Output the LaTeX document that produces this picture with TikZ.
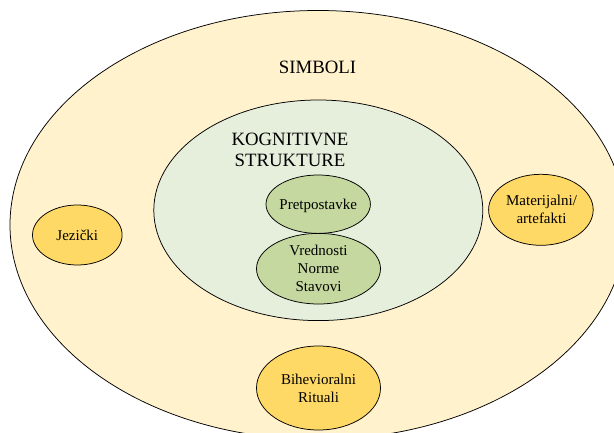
\documentclass[tikz,border=0pt]{standalone}
\usepackage{fontspec}
\setmainfont{Liberation Serif}
\usetikzlibrary{shapes.geometric}
\definecolor{outerfill}{HTML}{FFF2CC}
\definecolor{innerfill}{HTML}{E6EEDC}
\definecolor{greenfill}{HTML}{C5D89F}
\definecolor{goldfill}{HTML}{FFD966}
\tikzset{
  oval/.style={ellipse, draw=black, line width=0.75pt, inner sep=0pt},
  bigtext/.style={font=\fontsize{18.8}{21}\selectfont, align=center, inner sep=0pt},
  smalltext/.style={font=\fontsize{15}{18}\selectfont, align=center, inner sep=0pt},
}
\begin{document}
\begin{tikzpicture}[x=1pt,y=1pt]
\useasboundingbox (0,0) rectangle (614,432);
\clip (0,0) rectangle (614,432);
\fill[white] (0,0) rectangle (614,432);
% outer ellipse
\node[oval, fill=outerfill, minimum width=616, minimum height=429] (outer) at (318,207) {};
\node[bigtext] (simboli) at (317.5,364.2) {SIMBOLI};
% inner ellipse
\node[oval, fill=innerfill, minimum width=329, minimum height=220.6] (inner) at (318.3,221.7) {};
\node[bigtext] (kog) at (290,282) {KOGNITIVNE\\STRUKTURE};
% Pretpostavke
\node[oval, fill=greenfill, minimum width=104.4, minimum height=58.4] (pret) at (318.2,227.8) {};
\node[smalltext] (prettext) at (318.2,226) {Pretpostavke};
% Vrednosti
\node[oval, fill=greenfill, minimum width=124, minimum height=70.6] (vred) at (318.5,163.3) {};
\node[smalltext] (vredtext) at (vred.center) {Vrednosti\\Norme\\Stavovi};
% Jezicki
\node[oval, fill=goldfill, minimum width=89.6, minimum height=60] (jez) at (77.3,197) {};
\node[smalltext] (jeztext) at (jez.center) {Jezički};
% Materijalni
\node[oval, fill=goldfill, minimum width=104.6, minimum height=71] (mat) at (540.9,222.2) {};
\node[smalltext] (mattext) at (541.5,222.5) {Materijalni/\\artefakti};
% Bihevioralni
\node[oval, fill=goldfill, minimum width=124, minimum height=84] (bih) at (318.5,44) {};
\node[smalltext] (bihtext) at (bih.center) {Bihevioralni\\Rituali};
\end{tikzpicture}
\end{document}
